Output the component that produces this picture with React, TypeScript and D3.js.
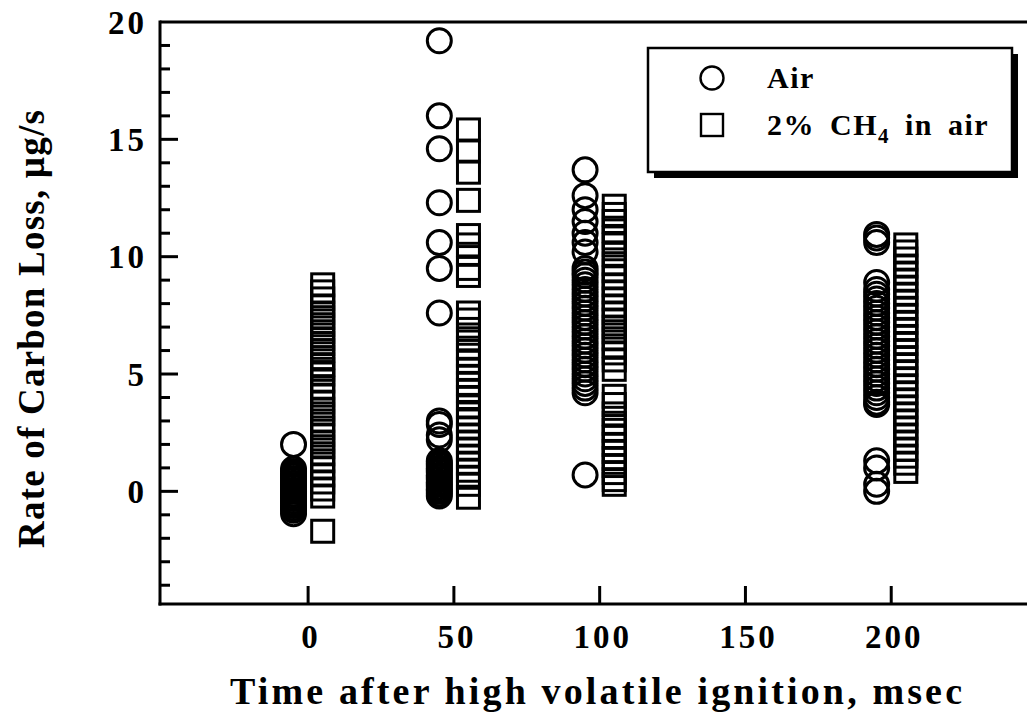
import React, { useRef, useEffect } from 'react';
import { select, scaleLinear, range } from 'd3';

// groups on the time axis (msec)
const timeGroups = [0, 50, 100, 200];

// rate of carbon loss, ug/s -- air
const air0 = [2.0, 0.95, 0.85, 0.75, 0.65, 0.55, 0.45, 0.35, 0.25, 0.15, 0.05, 0.0, -0.1, -0.2, -0.3, -0.4, -0.5, -0.6, -0.7, -0.8, -0.95];
const air50 = [19.2, 16.0, 14.6, 12.3, 10.6, 9.5, 7.6, 3.0, 2.85, 2.4, 2.2, 1.3, 1.2, 1.1, 1.0, 0.9, 0.8, 0.7, 0.6, 0.5, 0.4, 0.3, 0.2, 0.1, 0.0, -0.1, -0.2];
const air100 = [13.7, 12.6, 12.0, 11.5, 11.0, 10.6, 10.2, 9.5, 9.35, 9.2, 9.0, 8.8, 8.6, 8.4, 8.2, 8.0, 7.8, 7.6, 7.4, 7.2, 7.0, 6.8, 6.6, 6.4, 6.2, 6.0, 5.8, 5.6, 5.4, 5.2, 5.0, 4.8, 4.6, 4.4, 4.2, 0.7];
const air200 = [10.95, 10.8, 10.6, 8.9, 8.6, 8.4, 8.2, 8.0, 7.8, 7.6, 7.4, 7.2, 7.0, 6.8, 6.6, 6.4, 6.2, 6.0, 5.8, 5.6, 5.4, 5.2, 5.0, 4.8, 4.6, 4.4, 4.2, 4.0, 3.8, 3.7, 1.3, 1.0, 0.3, 0.0];

// rate of carbon loss, ug/s -- 2% CH4 in air
const ch4_0 = [8.8, 8.5, 8.2, 7.9, 7.6, 7.4, 7.1, 6.8, 6.5, 6.3, 6.0, 5.7, 5.4, 5.2, 5.0, 4.7, 4.4, 4.1, 3.8, 3.5, 3.3, 3.0, 2.7, 2.4, 2.1, 1.9, 1.6, 1.3, 1.0, 0.7, 0.4, 0.1, -0.2, -1.7];
const ch4_50 = [15.4, 14.5, 13.6, 12.4, 10.9, 10.5, 10.1, 9.5, 9.2, 7.6, 7.3, 6.9, 6.5, 6.1, 5.8, 5.5, 5.2, 4.9, 4.6, 4.3, 4.0, 3.6, 3.3, 3.0, 2.7, 2.4, 2.1, 1.8, 1.5, 1.2, 0.9, 0.6, 0.3, -0.25];
const ch4_100 = [12.15, 11.8, 11.5, 11.1, 10.8, 10.5, 10.1, 9.7, 9.4, 9.1, 8.8, 8.5, 8.2, 7.9, 7.6, 7.3, 7.0, 6.8, 6.5, 6.2, 5.9, 5.6, 5.2, 4.05, 3.7, 3.3, 2.9, 2.6, 2.3, 2.0, 1.7, 1.4, 1.1, 0.8, 0.5, 0.3];
const ch4_200 = [10.5, 10.2, 9.9, 9.6, 9.3, 9.0, 8.7, 8.4, 8.1, 7.8, 7.5, 7.2, 6.9, 6.6, 6.3, 6.0, 5.7, 5.4, 5.1, 4.8, 4.5, 4.2, 3.9, 3.6, 3.3, 3.0, 2.7, 2.4, 2.1, 1.8, 1.5, 1.2, 0.85];

const airSeries = [air0, air50, air100, air200];
const ch4Series = [ch4_0, ch4_50, ch4_100, ch4_200];

const xTicks = [0, 50, 100, 150, 200];
const yTickLabels = [0, 5, 10, 15, 20];

const W = 1027, H = 717;
const FONT = '"Liberation Serif", "Times New Roman", serif';
const DODGE = 5; // msec each side of the group time

export default function App() {
  const svgRef = useRef(null);

  useEffect(() => {
    const svg = select(svgRef.current);
    svg.selectAll('*').remove();

    const x = scaleLinear().domain([-50.8, 250]).range([160, 1037]);
    const y = scaleLinear().domain([-4.8, 20]).range([604, 22]);

    const frame = svg.append('g').attr('stroke', '#000').attr('stroke-width', 3);
    frame.append('line').attr('x1', 160).attr('x2', 160).attr('y1', 20.5).attr('y2', 605.5);
    frame.append('line').attr('x1', 160).attr('x2', W).attr('y1', 22).attr('y2', 22);
    frame.append('line').attr('x1', 158.5).attr('x2', W).attr('y1', 604).attr('y2', 604);

    // y ticks, every unit, longer every 5
    frame.selectAll('.yt')
      .data(range(-4, 20))
      .join('line')
      .attr('x1', 160)
      .attr('x2', d => 160 + (d % 5 === 0 ? 18 : 10))
      .attr('y1', d => y(d))
      .attr('y2', d => y(d));

    frame.selectAll('.xt')
      .data(xTicks)
      .join('line')
      .attr('x1', d => x(d)).attr('x2', d => x(d))
      .attr('y1', 604).attr('y2', 586);

    const txt = svg.append('g')
      .attr('font-family', FONT)
      .attr('font-weight', 'bold')
      .attr('fill', '#000');

    txt.selectAll('.yl')
      .data(yTickLabels)
      .join('text')
      .attr('x', 147)
      .attr('y', d => y(d))
      .attr('dy', '0.35em')
      .attr('text-anchor', 'end')
      .attr('font-size', 33)
      .attr('letter-spacing', 3)
      .text(d => d);

    txt.selectAll('.xl')
      .data(xTicks)
      .join('text')
      .attr('x', d => x(d) + 3)
      .attr('y', 648)
      .attr('text-anchor', 'middle')
      .attr('font-size', 33)
      .attr('letter-spacing', 3)
      .text(d => d);

    txt.append('text')
      .attr('x', 230)
      .attr('y', 704)
      .attr('font-size', 38)
      .attr('textLength', 732)
      .attr('lengthAdjust', 'spacing')
      .text('Time after high volatile ignition, msec');

    txt.append('text')
      .attr('transform', 'translate(44,548) rotate(-90)')
      .attr('font-size', 37)
      .attr('textLength', 438)
      .attr('lengthAdjust', 'spacing')
      .text('Rate of Carbon Loss, \u00b5g/s');

    // data markers
    const marks = svg.append('g').attr('fill', 'none').attr('stroke', '#000').attr('stroke-width', 3);
    timeGroups.forEach((t, i) => {
      marks.append('g').selectAll('circle')
        .data(airSeries[i])
        .join('circle')
        .attr('cx', x(t - DODGE))
        .attr('cy', d => y(d))
        .attr('r', 12);
      marks.append('g').selectAll('rect')
        .data(ch4Series[i])
        .join('rect')
        .attr('x', x(t + DODGE) - 11)
        .attr('y', d => y(d) - 11)
        .attr('width', 22)
        .attr('height', 22);
    });

    // legend with drop shadow
    const lg = svg.append('g');
    lg.append('rect').attr('x', 654).attr('y', 54).attr('width', 364).attr('height', 124).attr('fill', '#000');
    lg.append('rect').attr('x', 648).attr('y', 48).attr('width', 364).attr('height', 124)
      .attr('fill', '#fff').attr('stroke', '#000').attr('stroke-width', 2.5);
    lg.append('circle').attr('cx', 712).attr('cy', 78).attr('r', 11.5)
      .attr('fill', 'none').attr('stroke', '#000').attr('stroke-width', 2.4);
    lg.append('rect').attr('x', 701).attr('y', 114).attr('width', 22).attr('height', 22)
      .attr('fill', 'none').attr('stroke', '#000').attr('stroke-width', 2.4);

    const lt = lg.append('g')
      .attr('font-family', FONT)
      .attr('font-weight', 'bold')
      .attr('font-size', 30)
      .attr('letter-spacing', 1.5)
      .attr('word-spacing', 6);
    lt.append('text').attr('x', 767).attr('y', 88).text('Air');
    const t2 = lt.append('text').attr('x', 767).attr('y', 135);
    t2.append('tspan').text('2% CH');
    t2.append('tspan').attr('dy', 8).attr('font-size', 21).text('4');
    t2.append('tspan').attr('dy', -8).text(' in air');
  }, []);

  return (
    <div style={{ position: 'absolute', left: 0, top: 0 }}>
      <svg ref={svgRef} width={W} height={H} style={{ display: 'block', background: '#fff' }} />
    </div>
  );
}
